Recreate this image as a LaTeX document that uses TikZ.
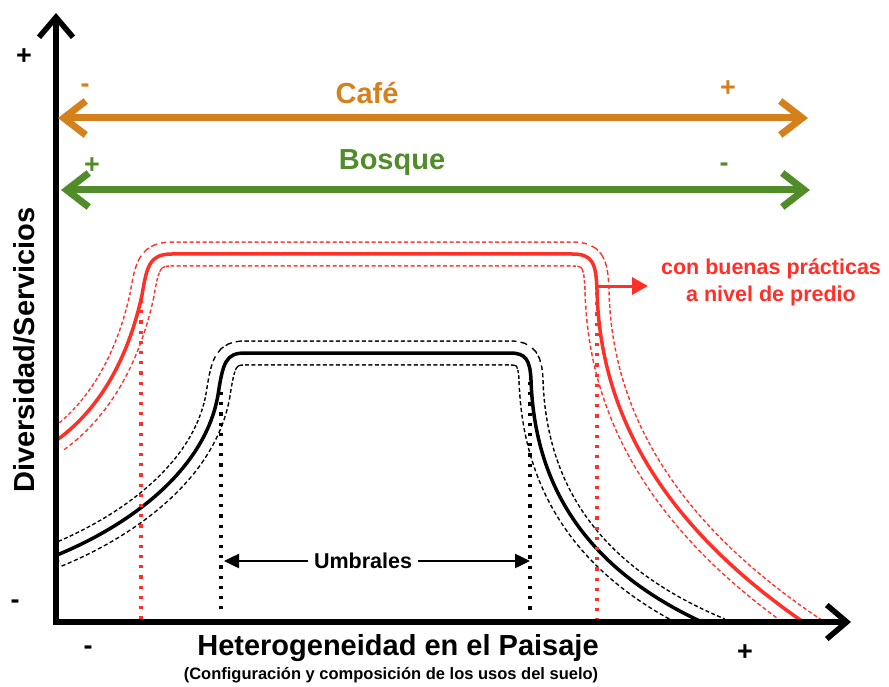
\documentclass[tikz,border=0pt]{standalone}
\usepackage{fontspec}
\setmainfont{Liberation Sans}
\usetikzlibrary{arrows.meta}
\definecolor{redc}{RGB}{255,48,40}
\definecolor{cafec}{RGB}{212,128,28}
\definecolor{bosquec}{RGB}{82,140,42}
\newcommand\redcurve{(57,440) .. controls (105,405) and (130,350) .. (142,295) .. controls (147,265) and (150,254) .. (172,254) -- (572,254) .. controls (592,254) and (596,262) .. (597,290) .. controls (600,430) and (680,540) .. (815,630)}
\newcommand\blackcurve{(57,555) .. controls (130,525) and (205,470) .. (218,395) .. controls (223,362) and (226,353) .. (245,353) -- (510,353) .. controls (526,353) and (530,360) .. (531,380) .. controls (535,500) and (600,580) .. (720,630)}
\begin{document}
\begin{tikzpicture}[x=1pt,y=-1pt,
  lbl/.style={font=\fontsize{29}{32}\selectfont\bfseries, inner sep=0pt},
  sgn/.style={font=\fontsize{27}{30}\selectfont\bfseries, inner sep=0pt},
  bigarrow/.style={line width=7pt, {Straight Barb[length=22pt,width=34pt]}-{Straight Barb[length=22pt,width=34pt]}},
  axisline/.style={line width=5.5pt, black, {Straight Barb[length=20pt,width=34pt]}-{Straight Barb[length=20pt,width=34pt]}},
  band/.style={line width=25.4pt, dash pattern=on 4pt off 2.5pt},
  bandfill/.style={line width=22.4pt, white},
  curve/.style={line width=3.5pt},
  vdots/.style={line width=3.2pt, dash pattern=on 3.2pt off 7pt}
]
\useasboundingbox (0,0) rectangle (889,687);
% curves with dashed envelopes
\begin{scope}
\clip (57,0) rectangle (889,622);
\draw[redc, band] \redcurve;
\draw[bandfill] \redcurve;
\draw[redc, curve] \redcurve;
\draw[black, band] \blackcurve;
\draw[bandfill] \blackcurve;
\draw[black, curve] \blackcurve;
\end{scope}
% threshold lines
\coordinate (r1t) at (141,300); \coordinate (r1b) at (141,622);
\coordinate (r2t) at (597,292); \coordinate (r2b) at (597,622);
\coordinate (b1t) at (221,392); \coordinate (b1b) at (221,614);
\coordinate (b2t) at (530,382); \coordinate (b2b) at (530,614);
\draw[redc, vdots] (r1t) -- (r1b);
\draw[redc, vdots] (r2t) -- (r2b);
\draw[black, vdots] (b1t) -- (b1b);
\draw[black, vdots] (b2t) -- (b2b);
% axes
\coordinate (ytop) at (56,13);
\coordinate (O) at (56,622);
\coordinate (xend) at (851,622);
\draw[axisline] (ytop) -- (O) -- (xend);
% Cafe / Bosque arrows
\coordinate (cafeL) at (58,118); \coordinate (cafeR) at (808,118);
\coordinate (bosL) at (61,190); \coordinate (bosR) at (810,190);
\draw[cafec, bigarrow] (cafeL) -- (cafeR);
\draw[bosquec, bigarrow] (bosL) -- (bosR);
\node[lbl, text=cafec] (cafe) at (367,93) {Café};
\node[lbl, text=bosquec] (bosque) at (392,163) {Bosque};
\node[sgn, text=cafec] (cm) at (85,88) {-};
\node[sgn, text=cafec] (cp) at (728,89) {+};
\node[sgn, text=bosquec] (bp) at (92,166) {+};
\node[sgn, text=bosquec] (bm) at (724,167) {-};
% axis labels
\node[sgn] (yp) at (24,57) {+};
\node[sgn] (ym) at (15,604) {-};
\node[sgn] (xm) at (88,650) {-};
\node[sgn] (xp) at (745,653) {+};
\node[lbl, rotate=90] (ylab) at (24,350) {Diversidad/Servicios};
\node[lbl] (xlab) at (398,648) {Heterogeneidad en el Paisaje};
\node[font=\fontsize{16.5}{18}\selectfont\bfseries, inner sep=0pt] (xsub) at (391,675) {(Configuración y composición de los usos del suelo)};
% Umbrales
\node[font=\fontsize{21.5}{24}\selectfont\bfseries, fill=white, inner sep=0pt, inner xsep=6pt] (umb) at (363,561) {Umbrales};
\coordinate (uL) at (224,561); \coordinate (uR) at (530,561);
\draw[line width=2.5pt, -{Triangle[length=15pt,width=14pt]}] (umb) -- (uL);
\draw[line width=2.5pt, -{Triangle[length=15pt,width=14pt]}] (umb) -- (uR);
% buenas practicas
\coordinate (rs) at (596,286); \coordinate (re) at (648,286);
\draw[redc, line width=3pt, -{Triangle[length=16pt,width=17pt]}] (rs) -- (re);
\node[font=\fontsize{21.5}{27}\selectfont\bfseries, text=redc, align=center, inner sep=0pt] (bpn) at (771,282) {con buenas prácticas\\a nivel de predio};
\end{tikzpicture}
\end{document}
